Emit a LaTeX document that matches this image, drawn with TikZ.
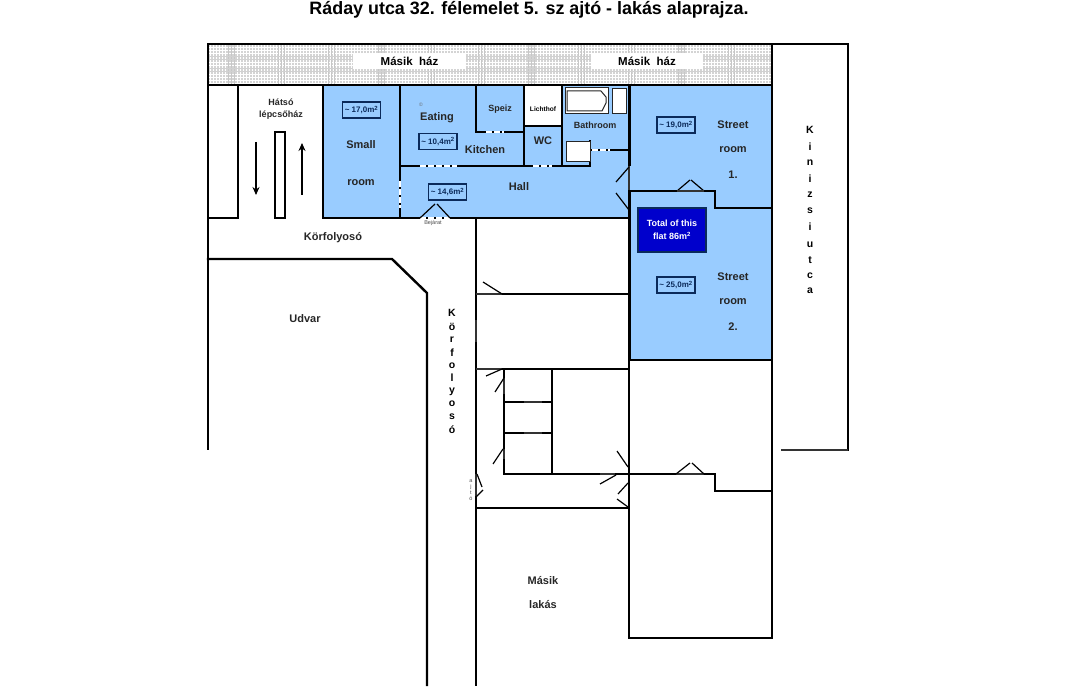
\documentclass[tikz,border=0pt]{standalone}
\usepackage{fontspec}
\setmainfont{Liberation Sans}
\usetikzlibrary{arrows.meta}
\definecolor{roomblue}{HTML}{99CCFF}
\definecolor{flatblue}{HTML}{0000CC}
\definecolor{boxnavy}{HTML}{0B2A5A}
\begin{document}
\begin{tikzpicture}[
        x=1pt, y=-1pt,
        wall/.style = {black, line width=2.4pt, line cap=rect},
        thickwall/.style = {black, line width=3pt},
        thinwall/.style = {black!80, line width=1.2pt},
        leaf/.style = {black, line width=1.2pt},
        gapline/.style = {white, line width=1.4pt, dash pattern=on 6pt off 2pt},
        pil/.style = {black, line width=1.1pt, -{Stealth[length=8pt,width=7pt]}},
        fixture/.style = {draw=black!85, fill=white, line width=1pt},
        areabox/.style = {draw=boxnavy, line width=1.2pt, fill=roomblue, text=boxnavy, minimum width=38pt, minimum height=16pt, inner sep=0pt, font=\fontsize{8}{9}\selectfont\bfseries},
        roomname/.style = {text=black!85, inner sep=0pt, font=\fontsize{11}{13}\selectfont\bfseries},
        smallname/.style = {text=black!85, inner sep=0pt, font=\fontsize{9}{10}\selectfont\bfseries},
        wallname/.style = {fill=white, minimum height=16pt, inner sep=0pt, font=\fontsize{11.5}{13}\selectfont\bfseries},
        letter/.style = {inner sep=0pt, font=\fontsize{10.5}{12}\selectfont\bfseries}
        ]
        \useasboundingbox (0,0) rectangle (1080,700);

        \node[inner sep=0pt, font=\fontsize{17.9}{20}\selectfont\bfseries] (title) at (529,10) {Ráday utca 32. félemelet 5. sz ajtó - lakás alaprajza.};

        % neighbour strip
        \fill[black!17] (208,45) rectangle (772,85);
        \foreach \x in {210,213,...,771} \draw[white, line width=0.7pt] (\x,45) -- (\x,85);
        \foreach \y in {47,50,...,84} \draw[white, line width=0.7pt] (208,\y) -- (772,\y);
        \foreach \x in {228,231,234,278,281,284,328,331,334,378,381,384,428,431,434,478,481,484,528,531,534,578,581,584,628,631,634,678,681,684,728,731,734}
          \draw[black!22, line width=0.7pt] (\x,45) -- (\x,85);
        \foreach \y in {56,59,68,71} \draw[black!18, line width=0.7pt] (208,\y) -- (772,\y);
        \node[wallname, minimum width=113pt] (ház1) at (409.5,61) {Másik\ \ ház};
        \node[wallname, minimum width=112pt] (ház2) at (647,61) {Másik\ \ ház};

        % the flat
        \fill[roomblue] (323,85) -- (772,85) -- (772,360) -- (629,360) -- (629,218) -- (323,218) -- cycle;
        \fill[white] (524,85) rectangle (562,126);

        % outer walls
        \draw[wall] (208,449) -- (208,44) -- (848,44) -- (848,450);
        \draw[thinwall, line width=1.4pt] (848,450) -- (781,450);
        \draw[wall] (772,44) -- (772,638) -- (629,638) -- (629,360);
        \draw[wall] (208,85) -- (772,85);

        % back stairs
        \draw[wall] (238,85) -- (238,218) -- (208,218);
        \draw[wall] (275,218) -- (275,132) -- (285,132) -- (285,218) -- cycle;
        \draw[pil] (256,142) -- (256,195);
        \draw[pil] (302,195) -- (302,143);

        % walls of the flat
        \draw[wall] (323,85) -- (323,218) -- (629,218);
        \draw[wall] (400,85) -- (400,218);
        \draw[wall] (400,166) -- (590,166);
        \draw[wall] (476,85) -- (476,132) -- (524,132);
        \draw[wall] (524,85) -- (524,166);
        \draw[wall] (524,126) -- (562,126);
        \draw[wall] (562,85) -- (562,166);
        \draw[wall] (590,141) -- (590,166);
        \draw[wall] (590,150) -- (629,150);
        \draw[thickwall] (629,85) -- (629,166);
        \draw[thinwall] (629,166) -- (629,191);
        \draw[thickwall] (629,191) -- (629,360);
        \draw[wall] (629,191) -- (677,191);
        \draw[wall] (704,191) -- (715,191) -- (715,208) -- (772,208);
        \draw[wall] (629,360) -- (772,360);

        % door gaps in the flat
        \draw[gapline] (420,166) -- (457,166);
        \draw[gapline] (533,166) -- (552,166);
        \draw[gapline] (592,150) -- (610,150);
        \draw[gapline] (400,181) -- (400,208);
        \draw[gapline] (420,218) -- (450,218);
        \draw[gapline] (486,132) -- (504,132);

        % door leaves of the flat
        \draw[leaf] (629,167) -- (616,182);
        \draw[leaf] (616,193) -- (629,210);
        \draw[leaf] (677,191) -- (690,180);
        \draw[leaf] (691,180) -- (704,191);
        \draw[thinwall] (677,191) -- (704,191);
        \draw[leaf] (420,218) -- (435,204);
        \draw[leaf] (437,204) -- (450,218);

        % bathroom fittings
        \draw[fixture] (565,88) rectangle (608,114);
        \draw[fixture] (567,91) -- (601,91) -- (606,97) -- (606,103) -- (602,111) -- (567,111) -- cycle;
        \draw[fixture] (612,89) rectangle (626,114);
        \draw[fixture] (566,142) rectangle (590,162);

        % courtyard gallery
        \draw[wall] (208,259) -- (392,259) -- (427,293) -- (427,685);
        \draw[wall] (476,218) -- (476,320);
        \draw[thinwall] (476,320) -- (476,343);
        \draw[wall] (476,343) -- (476,474);
        \draw[thinwall] (476,474) -- (476,497);
        \draw[wall] (476,497) -- (476,685);

        % neighbouring flats
        \draw[wall] (502,294) -- (629,294);
        \draw[thinwall] (476,294) -- (502,294);
        \draw[wall] (502,369) -- (629,369);
        \draw[thinwall] (476,369) -- (502,369);
        \draw[wall] (504,369) -- (504,378);
        \draw[thinwall] (504,378) -- (504,395);
        \draw[wall] (504,395) -- (504,449);
        \draw[thinwall] (504,449) -- (504,460);
        \draw[wall] (504,460) -- (504,474) -- (600,474);
        \draw[thinwall] (600,474) -- (616,474);
        \draw[wall] (616,474) -- (676,474);
        \draw[wall] (552,369) -- (552,474);
        \draw[wall] (504,402) -- (524,402);
        \draw[wall] (542,402) -- (552,402);
        \draw[thinwall] (524,402) -- (542,402);
        \draw[wall] (504,433) -- (524,433);
        \draw[wall] (542,433) -- (552,433);
        \draw[thinwall] (524,433) -- (542,433);
        \draw[wall] (476,508) -- (629,508);
        \draw[wall] (704,474) -- (715,474) -- (715,491) -- (772,491);
        \draw[thinwall] (676,474) -- (704,474);

        \draw[leaf] (483,282) -- (502,294);
        \draw[leaf] (486,376) -- (502,369);
        \draw[leaf] (495,392) -- (504,378);
        \draw[leaf] (493,464) -- (503,449);
        \draw[leaf] (477,474) -- (482,487);
        \draw[leaf] (476,497) -- (483,490);
        \draw[leaf] (617,451) -- (628,467);
        \draw[leaf] (600,484) -- (616,475);
        \draw[leaf] (618,494) -- (628,483);
        \draw[leaf] (617,499) -- (628,507);
        \draw[leaf] (676,474) -- (690,463);
        \draw[leaf] (692,463) -- (704,474);

        % sizes
        \node[areabox] (small size) at (361.5,110) {\textasciitilde{} 17,0m\textsuperscript{2}};
        \node[areabox] (kitchen size) at (438,141.5) {\textasciitilde{} 10,4m\textsuperscript{2}};
        \node[areabox] (hall size) at (447.5,192) {\textasciitilde{} 14,6m\textsuperscript{2}};
        \node[areabox] (street1 size) at (676,125) {\textasciitilde{} 19,0m\textsuperscript{2}};
        \node[areabox] (street2 size) at (676,285) {\textasciitilde{} 25,0m\textsuperscript{2}};
        \node[draw=boxnavy, line width=1.2pt, fill=flatblue, text=white, minimum width=68pt, minimum height=44pt, inner sep=0pt, align=center, font=\fontsize{9}{13.5}\selectfont\bfseries] (total) at (672,230) {Total of this\\flat 86m\textsuperscript{2}};

        % room names
        \node[smallname, align=center] (stairs) at (281,109) {Hátsó\\[2pt]lépcsőház};
        \node[roomname] (small1) at (361,145) {Small};
        \node[roomname] (small2) at (361,183) {room};
        \node[inner sep=0pt, text=black!60, font=\fontsize{5}{6}\selectfont] (mark) at (421,105) {©};
        \node[roomname] (eating) at (437,118) {Eating};
        \node[roomname] (kitchen) at (485,150) {Kitchen};
        \node[smallname] (speiz) at (500,109) {Speiz};
        \node[inner sep=0pt, font=\fontsize{6.6}{8}\selectfont\bfseries] (lichthof) at (543,109) {Lichthof};
        \node[roomname] (wc) at (543,141) {WC};
        \node[smallname] (bathroom) at (595,125) {Bathroom};
        \node[roomname] (hall) at (519,187) {Hall};
        \node[inner sep=0pt, text=black!70, font=\fontsize{5.5}{6}\selectfont] (entrance) at (433,223) {Bejárat};
        \node[roomname] (street1a) at (733,125) {Street};
        \node[roomname] (street1b) at (733,150) {room};
        \node[roomname] (street1c) at (733,175) {1.};
        \node[roomname] (street2a) at (733,277) {Street};
        \node[roomname] (street2b) at (733,302) {room};
        \node[roomname] (street2c) at (733,327) {2.};
        \node[roomname] (gallery) at (333,238) {Körfolyosó};
        \node[roomname] (yard) at (305,319) {Udvar};
        \node[roomname] (other1) at (543,581) {Másik};
        \node[roomname] (other2) at (543,605) {lakás};

        % names running downwards
        \foreach \c/\y in {K/130,i/147,n/163,i/179,z/195,s/211,i/227,u/245,t/260,c/276,a/291}
          \node[letter] at (810,\y) {\c};
        \foreach \c/\y in {K/313,ö/327,r/340,f/353,o/366,l/378,y/392,o/404,s/417,ó/430}
          \node[letter] at (452,\y) {\c};
        \foreach \c/\y in {a/481,j/487,t/493,ó/499}
          \node[inner sep=0pt, text=black!70, font=\fontsize{5.5}{6}\selectfont] at (471,\y) {\c};

      \end{tikzpicture}
\end{document}
